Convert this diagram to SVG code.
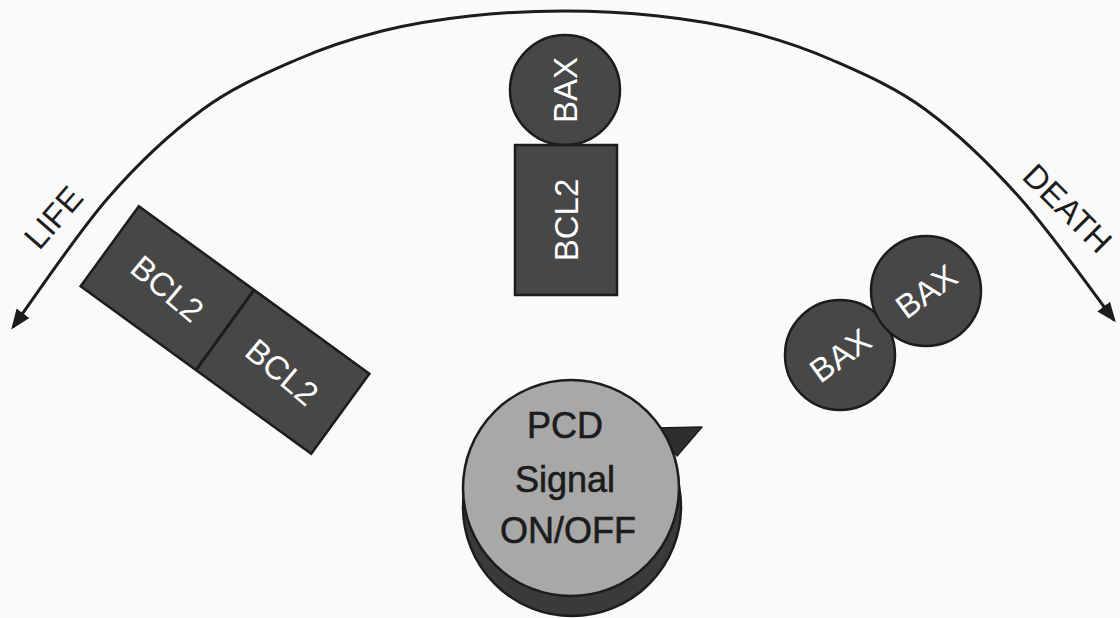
<svg xmlns="http://www.w3.org/2000/svg" width="1120" height="618" viewBox="0 0 1120 618">
  <defs>
    <marker id="arrowhead" markerUnits="userSpaceOnUse" markerWidth="22" markerHeight="18" refX="17" refY="8" orient="auto-start-reverse">
      <path d="M0,0 L20,8 L0,16 Z" fill="#1c1c1c"/>
    </marker>
  </defs>
  <style>
    .protein { fill: #474747; stroke: #1c1c1c; stroke-width: 2.5; }
    .divider { stroke: #1c1c1c; stroke-width: 3; }
    .plabel { font-family: "Liberation Sans", Arial, Helvetica, sans-serif; font-size: 33px; fill: #ffffff; text-anchor: middle; }
    .side { font-family: "Liberation Sans", Arial, Helvetica, sans-serif; font-size: 33px; fill: #1c1c1c; text-anchor: middle; }
    .signal { font-family: "Liberation Sans", Arial, Helvetica, sans-serif; font-size: 36px; fill: #1c1c1c; stroke: #1c1c1c; stroke-width: 0.6; text-anchor: middle; }
    .arc { fill: none; stroke: #1c1c1c; stroke-width: 3; }
  </style>

  <rect width="1120" height="618" fill="#fafafa"/>

  <!-- life / death balance arc -->
  <g id="connectors">
    <path class="arc" marker-start="url(#arrowhead)" marker-end="url(#arrowhead)"
      d="M13,327 C28.8,305.5 76.5,234.2 108,198
         C139.5,161.8 170.7,133 202,110
         C233.3,87 266,73.2 296,60
         C326,46.8 353,38.3 382,31
         C411,23.7 439.7,19.3 470,16
         C500.3,12.7 532.7,11 564,11
         C595.3,11 627.7,12.7 658,16
         C688.3,19.3 717,23.7 746,31
         C775,38.3 802,46.8 832,60
         C862,73.2 894.7,87 926,110
         C957.3,133 988.7,163 1020,198
         C1051.3,233 1098.3,299.7 1114,320"/>
  </g>

  <g id="label-life" transform="translate(53,217) rotate(-49)">
    <text class="side" x="0" y="12">LIFE</text>
  </g>
  <g id="label-death" transform="translate(1068,208) rotate(45)">
    <text class="side" x="0" y="12">DEATH</text>
  </g>

  <!-- BCL2 homodimer -->
  <g id="bcl2-dimer" transform="translate(225,330) rotate(36)">
    <rect class="protein" x="-142.5" y="-49.5" width="285" height="99"/>
    <line class="divider" x1="0" y1="-49.5" x2="0" y2="49.5"/>
    <text class="plabel" transform="translate(-71,0) rotate(4)" y="12">BCL2</text>
    <text class="plabel" transform="translate(71,0) rotate(4)" y="12">BCL2</text>
  </g>

  <!-- BAX bound to BCL2 -->
  <g id="bax-bcl2">
    <circle class="protein" cx="565" cy="90" r="55"/>
    <rect class="protein" x="515" y="145" width="102" height="150"/>
    <text class="plabel" transform="translate(565,90) rotate(-90)" y="12">BAX</text>
    <text class="plabel" transform="translate(566,220) rotate(-90)" y="12">BCL2</text>
  </g>

  <!-- BAX homodimer -->
  <g id="bax-dimer">
    <circle class="protein" cx="840" cy="355" r="55"/>
    <circle class="protein" cx="926" cy="291" r="55"/>
    <text class="plabel" transform="translate(840,355) rotate(-36)" y="12">BAX</text>
    <text class="plabel" transform="translate(926,291) rotate(-36)" y="12">BAX</text>
  </g>

  <!-- PCD signal dial -->
  <g id="pcd-signal">
    <circle cx="572" cy="507" r="109" fill="#3a3a3a" stroke="#1c1c1c" stroke-width="2.5"/>
    <polygon points="656,428 702,427 677,456" fill="#2e2e2e" stroke="#1c1c1c" stroke-width="1.5" stroke-linejoin="round"/>
    <circle cx="571" cy="488" r="108" fill="#a8a8a8" stroke="#1c1c1c" stroke-width="2.5"/>
    <text class="signal" x="565" y="438">PCD</text>
    <text class="signal" x="565" y="492">Signal</text>
    <text class="signal" x="568" y="543">ON/OFF</text>
  </g>
</svg>
